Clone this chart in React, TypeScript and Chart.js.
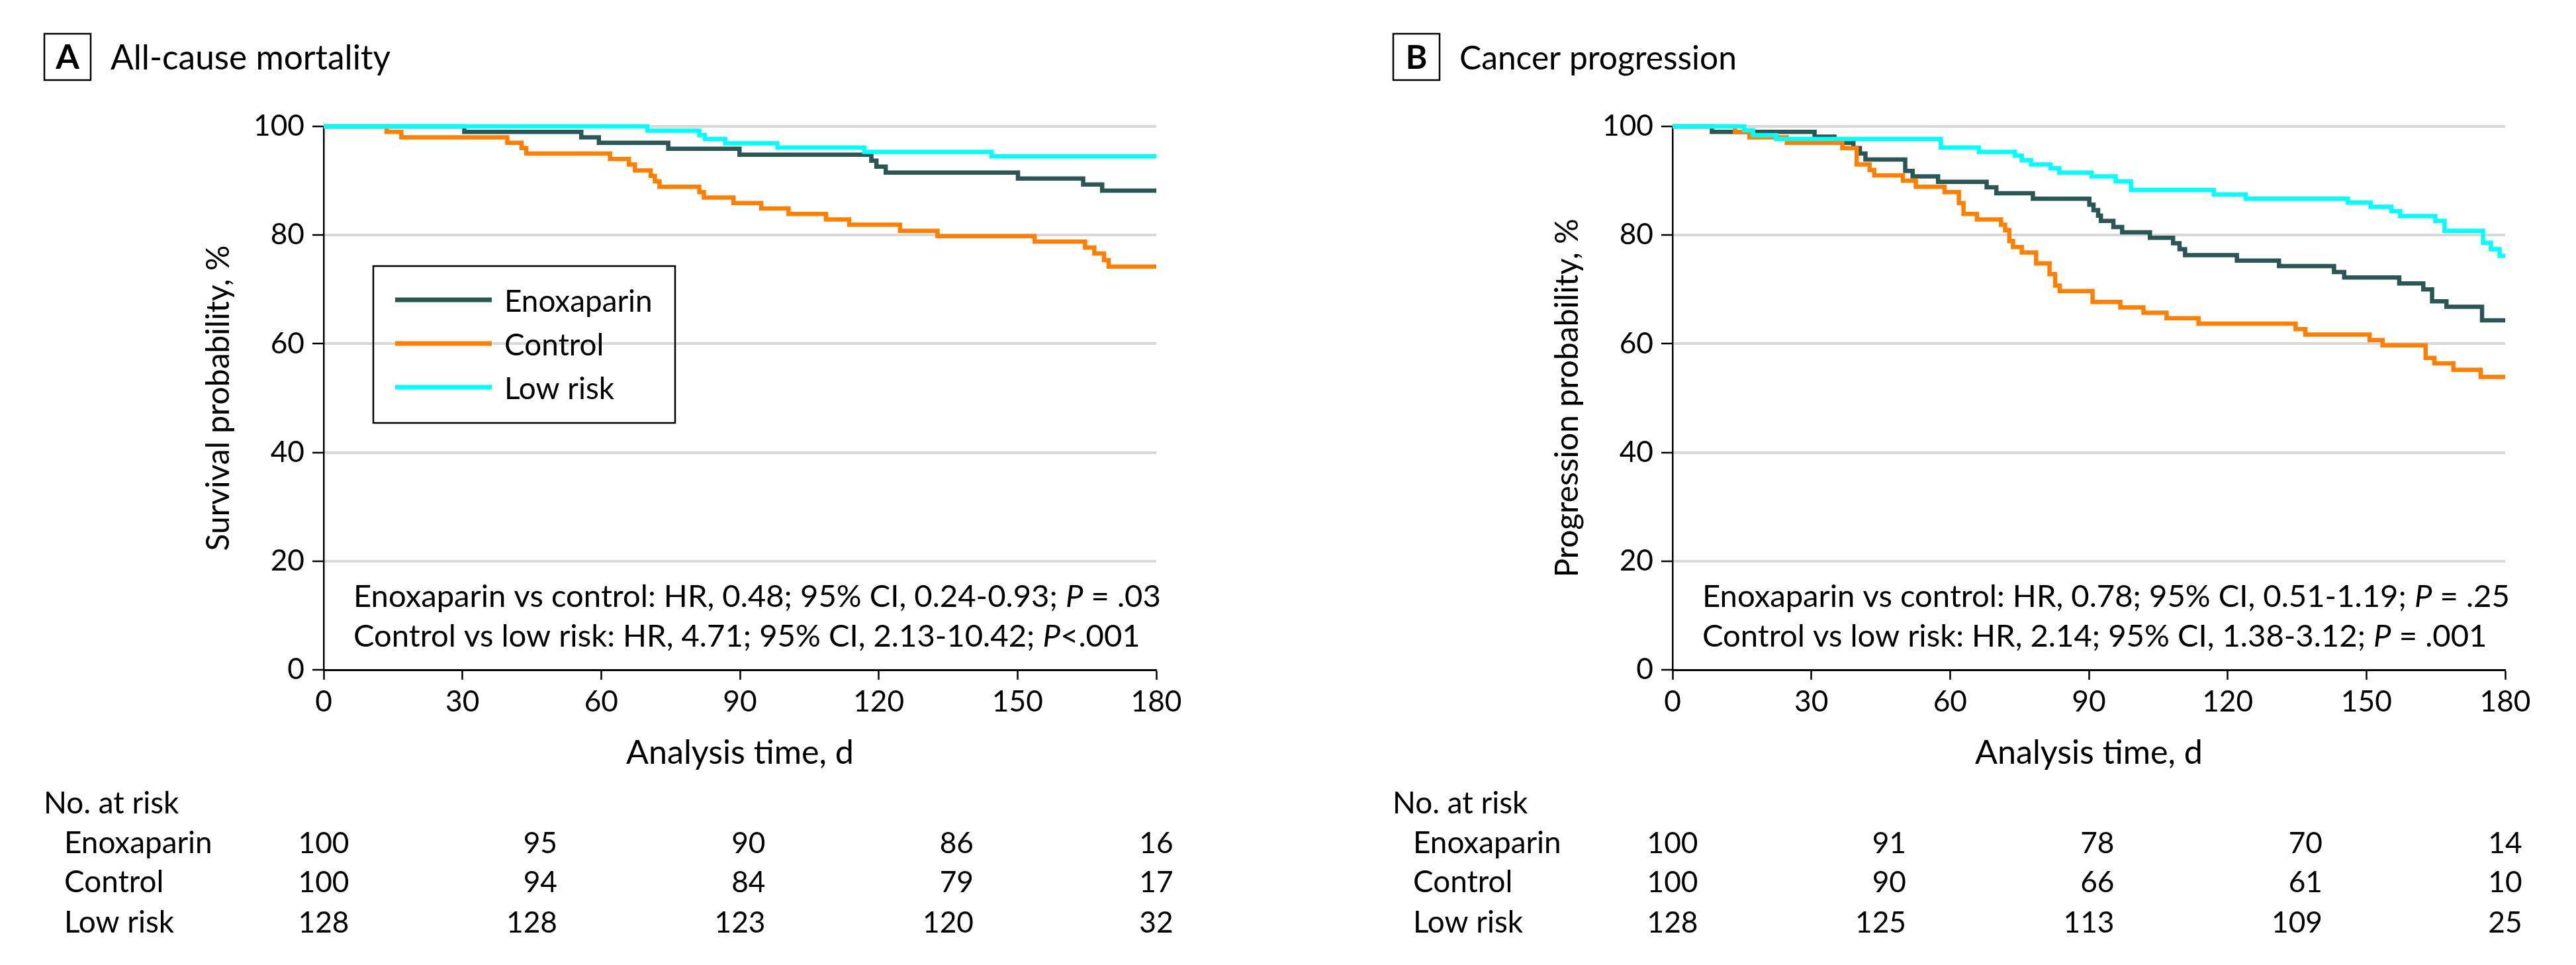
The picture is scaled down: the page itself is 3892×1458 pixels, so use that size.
import React, { useEffect, useRef } from "react";
import { Chart, registerables } from "chart.js";

Chart.register(...registerables);

// ---------------- data ----------------
const groupNames = ["Enoxaparin", "Control", "Low risk"];
const groupColors = ["#2a5653", "#ff8000", "#00ffff"];
const riskTimes = [0, 45, 90, 135, 180];

// Panel A: all-cause mortality (time in days, survival %)
const aEnoxT = [0, 30.4, 55.7, 59.5, 74.5, 89.9, 118.4, 119.5, 121.5, 150.1, 164.2, 168.3, 180];
const aEnoxS = [100, 99.0, 98.0, 97.0, 95.9, 94.8, 93.7, 92.6, 91.5, 90.4, 89.3, 88.2, 88.2];
const aCtrlT = [0, 13.6, 16.8, 39.7, 42.8, 43.8, 61.9, 66.0, 67.3, 70.7, 71.6, 72.6, 81.2, 82.2, 88.6, 94.6, 100.5, 108.6, 113.6, 124.6, 132.7, 153.7, 164.6, 166.6, 168.7, 169.7, 180];
const aCtrlS = [100, 99.0, 98.0, 97.0, 96.0, 95.0, 94.0, 93.0, 91.9, 90.9, 89.9, 88.9, 87.9, 86.9, 85.9, 84.9, 83.9, 82.9, 81.9, 80.8, 79.8, 78.8, 77.7, 76.6, 75.4, 74.2, 74.2];
const aLowT = [0, 70.0, 81.2, 82.4, 86.8, 98.1, 116.9, 144.4, 180];
const aLowS = [100, 99.2, 98.4, 97.7, 96.9, 96.1, 95.3, 94.5, 94.5];
const aRiskEnox = [100, 95, 90, 86, 16];
const aRiskCtrl = [100, 94, 84, 79, 17];
const aRiskLow = [128, 128, 123, 120, 32];

// Panel B: cancer progression
const bEnoxT = [0, 8.5, 30.7, 35.0, 39.1, 40.5, 41.7, 50.3, 51.9, 57.4, 67.9, 70.0, 77.9, 90.1, 91.0, 92.0, 92.6, 95.3, 97.2, 103.2, 108.2, 109.6, 110.8, 122.0, 131.1, 143.0, 145.2, 157.1, 162.3, 164.2, 167.3, 175.0, 180];
const bEnoxS = [100, 99.0, 98.1, 97.0, 96.0, 95.0, 93.9, 91.8, 90.8, 89.8, 88.8, 87.7, 86.7, 85.6, 84.6, 83.6, 82.6, 81.5, 80.5, 79.5, 78.5, 77.4, 76.3, 75.3, 74.3, 73.2, 72.2, 71.1, 70.0, 67.8, 66.8, 64.3, 64.3];
const bCtrlT = [0, 13.5, 16.6, 24.7, 36.7, 39.8, 42.6, 43.6, 49.8, 52.6, 58.8, 61.9, 62.9, 65.8, 71.0, 71.9, 72.8, 73.6, 75.5, 78.6, 81.5, 82.7, 83.7, 90.8, 96.8, 101.8, 106.8, 113.7, 134.7, 136.8, 150.7, 153.5, 162.8, 164.7, 168.8, 174.7, 180];
const bCtrlS = [100, 99.0, 98.0, 97.0, 96.0, 93.0, 92.0, 91.0, 90.0, 88.9, 87.9, 85.9, 83.9, 82.9, 81.9, 80.9, 78.9, 77.8, 76.8, 74.8, 72.8, 70.7, 69.7, 67.7, 66.7, 65.7, 64.7, 63.7, 62.7, 61.7, 60.7, 59.7, 57.4, 56.4, 55.2, 53.9, 53.9];
const bLowT = [0, 15.5, 17.4, 22.4, 58.0, 66.2, 74.0, 75.5, 77.5, 81.7, 83.6, 90.6, 95.8, 99.1, 117.0, 123.9, 146.0, 150.9, 155.4, 157.3, 164.9, 166.9, 175.2, 176.9, 178.8, 180];
const bLowS = [100, 99.3, 98.4, 97.7, 96.1, 95.3, 94.6, 93.8, 93.0, 92.3, 91.5, 90.8, 89.9, 88.3, 87.5, 86.7, 86.0, 85.2, 84.4, 83.5, 82.6, 80.8, 78.6, 77.4, 76.2, 76.2];
const bRiskEnox = [100, 91, 78, 70, 14];
const bRiskCtrl = [100, 90, 66, 61, 10];
const bRiskLow = [128, 125, 113, 109, 25];

const aNote1: [string, boolean][] = [["Enoxaparin vs control: HR, 0.48; 95% CI, 0.24-0.93; ", false], ["P", true], [" = .03", false]];
const aNote2: [string, boolean][] = [["Control vs low risk: HR, 4.71; 95% CI, 2.13-10.42; ", false], ["P", true], ["<.001", false]];
const bNote1: [string, boolean][] = [["Enoxaparin vs control: HR, 0.78; 95% CI, 0.51-1.19; ", false], ["P", true], [" = .25", false]];
const bNote2: [string, boolean][] = [["Control vs low risk: HR, 2.14; 95% CI, 1.38-3.12; ", false], ["P", true], [" = .001", false]];

// ---------------- layout ----------------
const FONT = "Lato";
const W = 1854;
const H = 1458;
const AREA_LEFT = 489;
const AREA_RIGHT = 1747;
const AREA_TOP = 191;
const AREA_BOTTOM = 1012;

type Panel = {
  letter: string;
  title: string;
  titleWidth: number;
  yTitle: string;
  series: { t: number[]; s: number[] }[];
  risk: number[][];
  notes: [string, boolean][][];
  legend: boolean;
};

const panelA: Panel = {
  letter: "A",
  title: "All-cause mortality",
  titleWidth: 423,
  yTitle: "Survival probability, %",
  series: [
    { t: aEnoxT, s: aEnoxS },
    { t: aCtrlT, s: aCtrlS },
    { t: aLowT, s: aLowS },
  ],
  risk: [aRiskEnox, aRiskCtrl, aRiskLow],
  notes: [aNote1, aNote2],
  legend: true,
};

const panelB: Panel = {
  letter: "B",
  title: "Cancer progression",
  titleWidth: 419,
  yTitle: "Progression probability, %",
  series: [
    { t: bEnoxT, s: bEnoxS },
    { t: bCtrlT, s: bCtrlS },
    { t: bLowT, s: bLowS },
  ],
  risk: [bRiskEnox, bRiskCtrl, bRiskLow],
  notes: [bNote1, bNote2],
  legend: false,
};

type Sizes = { note: number; label: number; num: number; xt: number; yt: number; title: number };

function fitSize(text: string, target: number): number {
  const c = document.createElement("canvas").getContext("2d")!;
  c.font = `100px ${FONT}`;
  return (100 * target) / c.measureText(text).width;
}

function overlay(panel: Panel, Z: Sizes) {
  return {
    id: "overlay" + panel.letter,
    afterDraw(chart: any) {
      const ctx: CanvasRenderingContext2D = chart.ctx;
      const xs = chart.scales.x;
      ctx.save();
      ctx.fillStyle = "#000";
      ctx.strokeStyle = "#000";
      ctx.textBaseline = "alphabetic";

      // panel label box + title
      ctx.lineWidth = 2.5;
      ctx.strokeRect(67, 51, 70, 70);
      ctx.font = `bold ${Z.title}px ${FONT}`;
      ctx.textAlign = "center";
      ctx.fillText(panel.letter, 102, 104);
      ctx.textAlign = "left";
      ctx.font = `${Z.title}px ${FONT}`;
      ctx.fillText(panel.title, 167, 105);

      // legend
      if (panel.legend) {
        ctx.lineWidth = 2.5;
        ctx.strokeRect(564, 402, 456, 237);
        const ys = [453, 519, 585];
        groupNames.forEach((name, i) => {
          ctx.strokeStyle = groupColors[i];
          ctx.lineWidth = 7;
          ctx.beginPath();
          ctx.moveTo(597, ys[i]);
          ctx.lineTo(743, ys[i]);
          ctx.stroke();
          ctx.fillStyle = "#000";
          ctx.font = `${Z.label}px ${FONT}`;
          ctx.fillText(name, 762, ys[i] + 18);
        });
      }

      // annotations
      const noteY = [917, 977];
      panel.notes.forEach((segs, i) => {
        let x = 534;
        segs.forEach(([txt, it]) => {
          ctx.font = `${it ? "italic " : ""}${Z.note}px ${FONT}`;
          ctx.fillText(txt, x, noteY[i]);
          x += ctx.measureText(txt).width;
        });
      });

      // number at risk table
      ctx.font = `${Z.label}px ${FONT}`;
      ctx.textAlign = "left";
      ctx.fillText("No. at risk", 66, 1229);
      const rowY = [1289, 1348, 1409];
      panel.risk.forEach((row, r) => {
        ctx.font = `${Z.label}px ${FONT}`;
        ctx.textAlign = "left";
        ctx.fillText(groupNames[r], 97, rowY[r]);
        ctx.font = `${Z.num}px ${FONT}`;
        const w3 = ctx.measureText("100").width;
        row.forEach((n, c) => {
          const px = xs.getPixelForValue(riskTimes[c]);
          if (c < row.length - 1) {
            ctx.textAlign = "right";
            ctx.fillText(String(n), px + w3 / 2, rowY[r]);
          } else {
            ctx.textAlign = "center";
            ctx.fillText(String(n), px, rowY[r]);
          }
        });
      });
      ctx.restore();
    },
  };
}

function buildConfig(panel: Panel, Z: Sizes): any {
  const tickFont = { family: FONT, size: Z.num };
  const xtFont = { family: FONT, size: Z.xt };
  const ytFont = { family: FONT, size: Z.yt };
  const order = [3, 2, 1];
  return {
    type: "line",
    data: {
      datasets: panel.series.map((sr, i) => ({
        label: groupNames[i],
        data: sr.t.map((t, k) => ({ x: t, y: sr.s[k] })),
        borderColor: groupColors[i],
        backgroundColor: groupColors[i],
        borderWidth: 6.5,
        pointRadius: 0,
        stepped: "before",
        fill: false,
        borderCapStyle: "butt",
        borderJoinStyle: "miter",
        order: order[i],
        clip: false,
      })),
    },
    options: {
      responsive: false,
      animation: false,
      devicePixelRatio: 1,
      layout: { padding: { left: 0, top: AREA_TOP, right: W - AREA_RIGHT, bottom: 0 } },
      plugins: { legend: { display: false }, tooltip: { enabled: false }, title: { display: false } },
      scales: {
        x: {
          type: "linear",
          min: 0,
          max: 180,
          afterFit: (scale: any) => {
            scale.height = H - AREA_BOTTOM;
          },
          ticks: { stepSize: 30, padding: 7, color: "#000", font: tickFont, maxRotation: 0 },
          grid: {
            drawOnChartArea: false,
            drawTicks: true,
            tickLength: 15,
            tickColor: "#000",
            tickWidth: 2.5,
          },
          border: { display: true, color: "#000", width: 3 },
          title: {
            display: true,
            text: "Analysis time, d",
            color: "#000",
            font: xtFont,
            padding: { top: 0, bottom: 1458 - 1138 - (Z.xt * 1.2) / 2 },
          },
        },
        y: {
          type: "linear",
          min: 0,
          max: 100,
          afterFit: (scale: any) => {
            scale.width = AREA_LEFT;
          },
          ticks: { stepSize: 20, padding: 12, color: "#000", font: tickFont },
          grid: {
            color: (c: any) => (c.tick && c.tick.value === 0 ? "rgba(0,0,0,0)" : "#d9d9d9"),
            lineWidth: 4,
            drawTicks: true,
            tickLength: 17,
            tickColor: "#000",
            tickWidth: 2.5,
          },
          border: { display: true, color: "#000", width: 2.5 },
          title: {
            display: true,
            text: panel.yTitle,
            color: "#000",
            font: ytFont,
            padding: { top: 331 - (Z.yt * 1.2) / 2, bottom: 0 },
          },
        },
      },
    },
    plugins: [overlay(panel, Z)],
  };
}

export default function App() {
  const refA = useRef<HTMLCanvasElement>(null);
  const refB = useRef<HTMLCanvasElement>(null);
  useEffect(() => {
    const note = fitSize("Control vs low risk: HR, 4.71; 95% CI, 2.13-10.42; P<.001", 1191);
    const label = (fitSize("Enoxaparin", 225) + fitSize("No. at risk", 202) + fitSize("Low risk", 167)) / 3;
    const num = fitSize("100", 77);
    const xt = fitSize("Analysis time, d", 344);
    const yt = fitSize("Survival probability, %", 462);
    const ZA: Sizes = { note, label, num, xt, yt, title: fitSize(panelA.title, panelA.titleWidth) };
    const ZB: Sizes = { note, label, num, xt, yt, title: fitSize(panelB.title, panelB.titleWidth) };
    const cA = new Chart(refA.current!, buildConfig(panelA, ZA));
    const cB = new Chart(refB.current!, buildConfig(panelB, ZB));
    return () => {
      cA.destroy();
      cB.destroy();
    };
  }, []);
  return (
    <div style={{ position: "absolute", left: 0, top: 0, width: 3892, height: 1458, background: "#fff" }}>
      <canvas ref={refA} width={W} height={H} style={{ position: "absolute", left: 0, top: 0, width: W, height: H }} />
      <canvas ref={refB} width={W} height={H} style={{ position: "absolute", left: 2038, top: 0, width: W, height: H }} />
    </div>
  );
}
